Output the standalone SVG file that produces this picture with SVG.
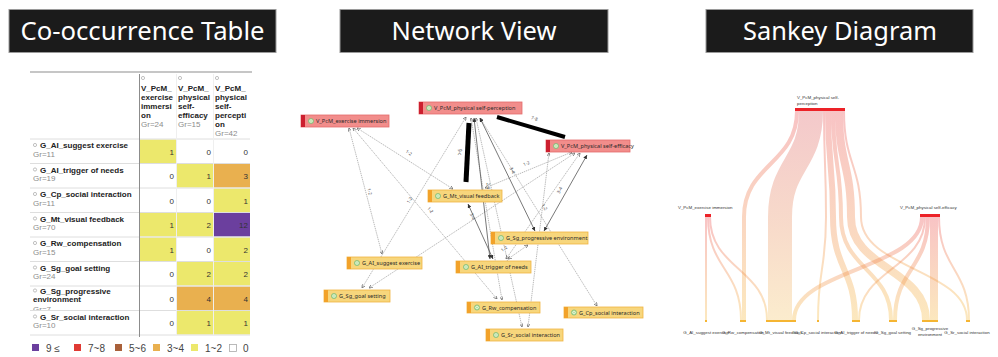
<svg xmlns="http://www.w3.org/2000/svg" width="998" height="357" viewBox="0 0 998 357">
<defs>
<style>
.tbox{fill:#1b1b1b;stroke:#9a9a9a;stroke-width:1}
.title{font-family:"Noto Sans","DejaVu Sans",sans-serif;font-size:26px;fill:#fff;text-anchor:middle}
.hd{font-family:"Liberation Sans",Arial,sans-serif;font-size:8px;font-weight:bold;fill:#222}
.rl{font-family:"Liberation Sans",Arial,sans-serif;font-size:8px;font-weight:bold;fill:#222}
.gr{font-family:"Liberation Sans",Arial,sans-serif;font-size:8px;fill:#8c8c8c}
.ic{fill:none;stroke:#999;stroke-width:0.6}
.num{font-family:"Liberation Sans",Arial,sans-serif;font-size:8px;fill:#333;text-anchor:end}
.grid{stroke:#dedede;stroke-width:1}
.y{fill:#ece86c}.o{fill:#e9b04f}.p{fill:#6b3f9e}.r{fill:#e03a33}.b{fill:#a9603a}.w{fill:#fff}
.lg{font-family:"Liberation Sans",Arial,sans-serif;font-size:10px;fill:#444}
.nr rect.bg{fill:#f28d8b;stroke:#e36c6c;stroke-width:0.8}
.nr rect.st{fill:#cc1f2f}
.no rect.bg{fill:#f7d67c;stroke:#f0b443;stroke-width:0.8}
.no rect.st{fill:#f2a22a}
.nt{font-family:"Noto Sans","DejaVu Sans",sans-serif;font-size:5.6px;fill:#2a2a2a}
.icon{fill:#b8e0a4;stroke:#6fb56f;stroke-width:0.6}
.dm{fill:none;stroke:#fff;stroke-width:0.5}
.e{fill:none;stroke:#8c8c8c;stroke-width:0.6;stroke-dasharray:1.4 0.8;marker-start:url(#ah);marker-end:url(#ah)}
.es{fill:none;stroke:#555;stroke-width:0.8;marker-start:url(#ahd);marker-end:url(#ahd)}
.et{fill:none;stroke:#000;stroke-linecap:butt}
.el{font-family:"Noto Sans","DejaVu Sans",sans-serif;font-size:4.5px;fill:#444;text-anchor:middle}
.sl{font-family:"Liberation Sans",Arial,sans-serif;font-size:4.4px;fill:#333}
.slc{font-family:"Liberation Sans",Arial,sans-serif;font-size:4.4px;fill:#333;text-anchor:middle}
.src{fill:#ec2228}
.tgt{fill:#f5b533}
.lk{fill:none;stroke-opacity:0.33}
</style>
<marker id="ah" viewBox="0 0 6 6" refX="6" refY="3" markerWidth="3.5" markerHeight="3.5" markerUnits="userSpaceOnUse" orient="auto-start-reverse">
<path d="M0,0 L6,3 L0,6" fill="none" stroke="#666" stroke-width="1.2"/>
</marker>
<marker id="ahd" viewBox="0 0 6 6" refX="6" refY="3" markerWidth="4" markerHeight="4" markerUnits="userSpaceOnUse" orient="auto-start-reverse">
<path d="M0,0 L6,3 L0,6 z" fill="#333"/>
</marker>
<linearGradient id="gTop" gradientUnits="userSpaceOnUse" x1="0" y1="111" x2="0" y2="321">
<stop offset="0" stop-color="#ea4a4e"/>
<stop offset="1" stop-color="#f5b93a"/>
</linearGradient>
<linearGradient id="gBig" gradientUnits="userSpaceOnUse" x1="0" y1="111" x2="0" y2="321">
<stop offset="0" stop-color="#dc5a60"/>
<stop offset="0.55" stop-color="#e9905f"/>
<stop offset="1" stop-color="#f4c668"/>
</linearGradient>
<linearGradient id="gMid" gradientUnits="userSpaceOnUse" x1="0" y1="217" x2="0" y2="321">
<stop offset="0" stop-color="#ea4a4e"/>
<stop offset="1" stop-color="#f5b93a"/>
</linearGradient>
<clipPath id="rowclip"><rect x="30" y="286" width="109" height="24"/></clipPath>
</defs>
<rect width="998" height="357" fill="#fff"/>

<!-- section titles -->
<g id="titles">
<rect class="tbox" x="9" y="9.5" width="267" height="43"/>
<text class="title" x="142.5" y="40" textLength="244" lengthAdjust="spacingAndGlyphs">Co-occurrence Table</text>
<rect class="tbox" x="340" y="9.5" width="268" height="43"/>
<text class="title" x="474" y="40" textLength="165" lengthAdjust="spacingAndGlyphs">Network View</text>
<rect class="tbox" x="706" y="9.5" width="267" height="43"/>
<text class="title" x="840" y="40" textLength="194" lengthAdjust="spacingAndGlyphs">Sankey Diagram</text>
</g>

<!-- co-occurrence table -->
<g id="table">
<line x1="30" y1="72" x2="252" y2="72" stroke="#c6c6c6" stroke-width="2"/>
<!-- header cells -->
<g id="col-immersion">
<circle class="ic" cx="143" cy="78" r="1.6"/>
<text class="hd" x="141" y="90.5">V_PcM_</text>
<text class="hd" x="141" y="99.5">exercise</text>
<text class="hd" x="141" y="108.5">immersi</text>
<text class="hd" x="141" y="117.5">on</text>
<text class="gr" x="141" y="126.5">Gr=24</text>
</g>
<g id="col-efficacy">
<circle class="ic" cx="180" cy="78" r="1.6"/>
<text class="hd" x="178" y="90.5">V_PcM_</text>
<text class="hd" x="178" y="99.5">physical</text>
<text class="hd" x="178" y="108.5">self-</text>
<text class="hd" x="178" y="117.5">efficacy</text>
<text class="gr" x="178" y="126.5">Gr=15</text>
</g>
<g id="col-perception">
<circle class="ic" cx="217" cy="78" r="1.6"/>
<text class="hd" x="215" y="90.5">V_PcM_</text>
<text class="hd" x="215" y="99.5">physical</text>
<text class="hd" x="215" y="108.5">self-</text>
<text class="hd" x="215" y="117.5">percepti</text>
<text class="hd" x="215" y="126.5">on</text>
<text class="gr" x="215" y="135.5">Gr=42</text>
</g>

<!-- cell fills -->
<g id="cells">
<rect class="y" x="140" y="139.5" width="36" height="23.5"/>
<rect class="y" x="177" y="164" width="36" height="23.5"/>
<rect class="o" x="214" y="164" width="36" height="23.5"/>
<rect class="y" x="214" y="188.5" width="36" height="23.5"/>
<rect class="y" x="140" y="213" width="36" height="23.5"/>
<rect class="y" x="177" y="213" width="36" height="23.5"/>
<rect class="p" x="214" y="213" width="36" height="23.5"/>
<rect class="y" x="140" y="237.5" width="36" height="23.5"/>
<rect class="y" x="214" y="237.5" width="36" height="23.5"/>
<rect class="y" x="177" y="262" width="36" height="23.5"/>
<rect class="y" x="214" y="262" width="36" height="23.5"/>
<rect class="o" x="177" y="286.5" width="36" height="23.5"/>
<rect class="o" x="214" y="286.5" width="36" height="23.5"/>
<rect class="y" x="177" y="311" width="36" height="23.5"/>
<rect class="y" x="214" y="311" width="36" height="23.5"/>
</g>

<!-- grid -->
<g id="grid">
<line class="grid" x1="30" y1="139" x2="250" y2="139"/>
<line class="grid" x1="30" y1="163.5" x2="250" y2="163.5"/>
<line class="grid" x1="30" y1="188" x2="250" y2="188"/>
<line class="grid" x1="30" y1="212.5" x2="250" y2="212.5"/>
<line class="grid" x1="30" y1="237" x2="250" y2="237"/>
<line class="grid" x1="30" y1="261.5" x2="250" y2="261.5"/>
<line class="grid" x1="30" y1="286" x2="250" y2="286"/>
<line class="grid" x1="30" y1="310.5" x2="250" y2="310.5"/>
<line class="grid" x1="30" y1="335" x2="250" y2="335"/>
<line x1="176.5" y1="74" x2="176.5" y2="335" stroke="#efefef" stroke-width="1"/>
<line x1="213.5" y1="74" x2="213.5" y2="335" stroke="#efefef" stroke-width="1"/>
<line x1="139.5" y1="74" x2="139.5" y2="337" stroke="#8c8c8c" stroke-width="1"/>
</g>

<!-- row labels -->
<g id="rows">
<circle class="ic" cx="35" cy="145" r="1.6"/><text class="rl" x="40" y="148">G_AI_suggest exercise</text><text class="gr" x="33" y="156.5">Gr=11</text>
<circle class="ic" cx="35" cy="169.5" r="1.6"/><text class="rl" x="40" y="172.5">G_AI_trigger of needs</text><text class="gr" x="33" y="181">Gr=19</text>
<circle class="ic" cx="35" cy="194" r="1.6"/><text class="rl" x="40" y="197">G_Cp_social interaction</text><text class="gr" x="33" y="205.5">Gr=11</text>
<circle class="ic" cx="35" cy="218.5" r="1.6"/><text class="rl" x="40" y="221.5">G_Mt_visual feedback</text><text class="gr" x="33" y="230">Gr=70</text>
<circle class="ic" cx="35" cy="243" r="1.6"/><text class="rl" x="40" y="246">G_Rw_compensation</text><text class="gr" x="33" y="254.5">Gr=15</text>
<circle class="ic" cx="35" cy="267.5" r="1.6"/><text class="rl" x="40" y="270.5">G_Sg_goal setting</text><text class="gr" x="33" y="279">Gr=24</text>
<g clip-path="url(#rowclip)">
<circle class="ic" cx="35" cy="290.5" r="1.6"/><text class="rl" x="40" y="293.5">G_Sg_progressive</text><text class="rl" x="33" y="302">environment</text><text class="gr" x="33" y="311.5">Gr=7</text>
</g>
<circle class="ic" cx="35" cy="316.5" r="1.6"/><text class="rl" x="40" y="319.5">G_Sr_social interaction</text><text class="gr" x="33" y="328">Gr=10</text>
</g>

<!-- values -->
<g id="values">
<text class="num" x="174" y="154.5">1</text><text class="num" x="211" y="154.5">0</text><text class="num" x="248" y="154.5">0</text>
<text class="num" x="174" y="179">0</text><text class="num" x="211" y="179">1</text><text class="num" x="248" y="179">3</text>
<text class="num" x="174" y="203.5">0</text><text class="num" x="211" y="203.5">0</text><text class="num" x="248" y="203.5">1</text>
<text class="num" x="174" y="228">1</text><text class="num" x="211" y="228">2</text><text class="num" x="248" y="228">12</text>
<text class="num" x="174" y="252.5">1</text><text class="num" x="211" y="252.5">0</text><text class="num" x="248" y="252.5">2</text>
<text class="num" x="174" y="277">0</text><text class="num" x="211" y="277">2</text><text class="num" x="248" y="277">2</text>
<text class="num" x="174" y="301.5">0</text><text class="num" x="211" y="301.5">4</text><text class="num" x="248" y="301.5">4</text>
<text class="num" x="174" y="326">0</text><text class="num" x="211" y="326">1</text><text class="num" x="248" y="326">1</text>
</g>

<!-- legend -->
<g id="legend">
<rect class="p" x="32" y="344" width="7" height="7"/><text class="lg" x="46" y="352">9 ≤</text>
<rect class="r" x="74" y="344" width="7" height="7"/><text class="lg" x="88" y="352">7~8</text>
<rect class="b" x="115" y="344" width="7" height="7"/><text class="lg" x="129" y="352">5~6</text>
<rect class="o" x="153" y="344" width="7" height="7"/><text class="lg" x="167" y="352">3~4</text>
<rect class="y" x="191" y="344" width="7" height="7"/><text class="lg" x="205" y="352">1~2</text>
<rect x="229.5" y="344.5" width="7" height="7" fill="#fff" stroke="#aaa" stroke-width="0.8"/><text class="lg" x="243" y="352">0</text>
</g>
</g>

<!-- network view: connectors -->
<g id="net-edges">
<line class="e" x1="357" y1="128" x2="453" y2="189"/>
<line class="e" x1="349" y1="128" x2="382" y2="254"/>
<line class="e" x1="353" y1="128" x2="497" y2="299"/>
<line class="e" x1="466" y1="117" x2="362" y2="288"/>
<line class="e" x1="575" y1="153" x2="369" y2="288"/>
<line class="e" x1="572" y1="152" x2="485" y2="188"/>
<line class="e" x1="480" y1="118" x2="597" y2="306"/>
<line class="e" x1="471" y1="118" x2="502" y2="300"/>
<line class="e" x1="476" y1="118" x2="522" y2="327"/>
<line class="e" x1="549" y1="153" x2="528" y2="327"/>
<line class="e" x1="580" y1="153" x2="506" y2="259"/>
<line class="e" x1="528" y1="245" x2="508" y2="259"/>
<line class="es" x1="474" y1="118" x2="490" y2="259"/>
<line class="es" x1="468" y1="204" x2="493" y2="259"/>
<line class="es" x1="480" y1="118" x2="535" y2="231"/>
<line class="es" x1="587" y1="155" x2="544" y2="231"/>
<line class="et" x1="469" y1="123" x2="466" y2="182" stroke-width="5"/>
<line class="et" x1="497" y1="117" x2="565" y2="137" stroke-width="4"/>
<text class="el" transform="translate(408,154) rotate(32)">1-2</text>
<text class="el" transform="translate(368,192) rotate(75)">1-2</text>
<text class="el" transform="translate(429,211) rotate(50)">1-2</text>
<text class="el" transform="translate(411,201) rotate(-59)">1-2</text>
<text class="el" transform="translate(527,165) rotate(-23)">1-2</text>
<text class="el" transform="translate(543,208) rotate(58)">1-2</text>
<text class="el" transform="translate(505,250) rotate(-35)">1-2</text>
<text class="el" transform="translate(458,152) rotate(90)">9-c</text>
<text class="el" transform="translate(534,120) rotate(16)">7-8</text>
<text class="el" transform="translate(487,186) rotate(83)">2-4</text>
<text class="el" transform="translate(471,217) rotate(66)">3-4</text>
<text class="el" transform="translate(511,171) rotate(64)">3-4</text>
<text class="el" transform="translate(561,191) rotate(-61)">3-4</text>
</g>

<!-- network view: nodes -->
<g id="n-immersion" class="nr"><rect class="bg" x="301" y="115" width="88" height="12"/><rect class="st" x="301" y="115" width="4" height="12"/><circle class="icon" cx="311" cy="121" r="2.6"/><path class="dm" d="M311,119.5 L312.5,121 L311,122.5 L309.5,121 z"/><text class="nt" x="316" y="123">V_PcM_exercise immersion</text></g>
<g id="n-perception" class="nr"><rect class="bg" x="419" y="102" width="103" height="12"/><rect class="st" x="419" y="102" width="4" height="12"/><circle class="icon" cx="429" cy="108" r="2.6"/><path class="dm" d="M429,106.5 L430.5,108 L429,109.5 L427.5,108 z"/><text class="nt" x="434" y="110">V_PcM_physical self-perception</text></g>
<g id="n-efficacy" class="nr"><rect class="bg" x="546" y="140" width="84" height="12"/><rect class="st" x="546" y="140" width="4" height="12"/><circle class="icon" cx="556" cy="146" r="2.6"/><path class="dm" d="M556,144.5 L557.5,146 L556,147.5 L554.5,146 z"/><text class="nt" x="561" y="148">V_PcM_physical self-efficacy</text></g>
<g id="n-visual" class="no"><rect class="bg" x="428" y="190" width="74" height="12"/><rect class="st" x="428" y="190" width="4" height="12"/><circle class="icon" cx="438" cy="196" r="2.6"/><path class="dm" d="M438,194.5 L439.5,196 L438,197.5 L436.5,196 z"/><text class="nt" x="443" y="198">G_Mt_visual feedback</text></g>
<g id="n-progressive" class="no"><rect class="bg" x="491" y="232" width="97" height="12"/><rect class="st" x="491" y="232" width="4" height="12"/><circle class="icon" cx="501" cy="238" r="2.6"/><path class="dm" d="M501,236.5 L502.5,238 L501,239.5 L499.5,238 z"/><text class="nt" x="506" y="240">G_Sg_progressive environment</text></g>
<g id="n-suggest" class="no"><rect class="bg" x="347" y="257" width="75" height="12"/><rect class="st" x="347" y="257" width="4" height="12"/><circle class="icon" cx="357" cy="263" r="2.6"/><path class="dm" d="M357,261.5 L358.5,263 L357,264.5 L355.5,263 z"/><text class="nt" x="362" y="265">G_AI_suggest exercise</text></g>
<g id="n-trigger" class="no"><rect class="bg" x="456" y="261" width="75" height="12"/><rect class="st" x="456" y="261" width="4" height="12"/><circle class="icon" cx="466" cy="267" r="2.6"/><path class="dm" d="M466,265.5 L467.5,267 L466,268.5 L464.5,267 z"/><text class="nt" x="471" y="269">G_AI_trigger of needs</text></g>
<g id="n-goal" class="no"><rect class="bg" x="324" y="290" width="66" height="12"/><rect class="st" x="324" y="290" width="4" height="12"/><circle class="icon" cx="334" cy="296" r="2.6"/><path class="dm" d="M334,294.5 L335.5,296 L334,297.5 L332.5,296 z"/><text class="nt" x="339" y="298">G_Sg_goal setting</text></g>
<g id="n-compensation" class="no"><rect class="bg" x="467" y="302" width="73" height="11"/><rect class="st" x="467" y="302" width="4" height="11"/><circle class="icon" cx="477" cy="307.5" r="2.6"/><path class="dm" d="M477,306 L478.5,307.5 L477,309 L475.5,307.5 z"/><text class="nt" x="482" y="309.5">G_Rw_compensation</text></g>
<g id="n-cp-social" class="no"><rect class="bg" x="564" y="307" width="79" height="11"/><rect class="st" x="564" y="307" width="4" height="11"/><circle class="icon" cx="574" cy="312.5" r="2.6"/><path class="dm" d="M574,311 L575.5,312.5 L574,314 L572.5,312.5 z"/><text class="nt" x="579" y="314.5">G_Cp_social interaction</text></g>
<g id="n-sr-social" class="no"><rect class="bg" x="486" y="329" width="77" height="12"/><rect class="st" x="486" y="329" width="4" height="12"/><circle class="icon" cx="496" cy="335" r="2.6"/><path class="dm" d="M496,333.5 L497.5,335 L496,336.5 L494.5,335 z"/><text class="nt" x="501" y="337">G_Sr_social interaction</text></g>

<!-- sankey links -->
<g id="sankey-links">
<!-- from physical self-perception (via middle layer) -->
<path class="lk" stroke="url(#gTop)" stroke-width="4" d="M797,111 C797,164 744,164 744,217 L744,320"/>
<path class="lk" stroke="url(#gBig)" stroke-opacity="0.9" stroke-width="24" d="M811,111 C811,164 780,164 780,217 L780,320"/>
<path class="lk" stroke="url(#gTop)" stroke-width="2" d="M824,111 C824,164 826,164 826,217 C826,269 818,269 818,320"/>
<path class="lk" stroke="url(#gTop)" stroke-width="6" d="M828,111 C828,164 833,164 833,217 C833,269 855,269 855,320"/>
<path class="lk" stroke="url(#gTop)" stroke-width="4" d="M833,111 C833,164 841,164 841,217 C841,269 891,269 891,320"/>
<path class="lk" stroke="url(#gTop)" stroke-width="8" d="M839,111 C839,164 851,164 851,217 C851,269 926,269 926,320"/>
<path class="lk" stroke="url(#gTop)" stroke-width="2" d="M844,111 C844,164 861,164 861,217 C861,269 967,269 967,320"/>
<!-- from exercise immersion -->
<path class="lk" stroke="url(#gMid)" stroke-width="2" d="M706,217 L706,320"/>
<path class="lk" stroke="url(#gMid)" stroke-width="2" d="M708,217 C708,269 741,269 741,320"/>
<path class="lk" stroke="url(#gMid)" stroke-width="2" d="M710,217 C710,269 767,269 767,320"/>
<!-- from physical self-efficacy -->
<path class="lk" stroke="url(#gMid)" stroke-width="4" d="M922,217 C922,269 794,269 794,320"/>
<path class="lk" stroke="url(#gMid)" stroke-width="2" d="M925,217 C925,269 859,269 859,320"/>
<path class="lk" stroke="url(#gMid)" stroke-width="4" d="M928,217 C928,269 895,269 895,320"/>
<path class="lk" stroke="url(#gMid)" stroke-width="8" d="M934,217 L934,320"/>
<path class="lk" stroke="url(#gMid)" stroke-width="2" d="M939,217 C939,269 969,269 969,320"/>
</g>

<!-- sankey nodes -->
<g id="s-perception"><rect class="src" x="795" y="108" width="50" height="3"/><text class="sl" x="797" y="98.5">V_PcM_physical self-</text><text class="sl" x="797" y="104.5">perception</text></g>
<g id="s-immersion"><rect class="src" x="705" y="214" width="6" height="3"/><text class="sl" x="678" y="209">V_PcM_exercise immersion</text></g>
<g id="s-efficacy"><rect class="src" x="920" y="214" width="20" height="3"/><text class="sl" x="900" y="209">V_PcM_physical self-efficacy</text></g>
<g id="s-suggest"><rect class="tgt" x="705" y="320" width="2" height="2"/><text class="slc" x="706" y="334">G_AI_suggest exercise</text></g>
<g id="s-compensation"><rect class="tgt" x="740" y="320" width="6" height="2"/><text class="slc" x="743" y="334">G_Rw_compensation</text></g>
<g id="s-visual"><rect class="tgt" x="766" y="320" width="30" height="2"/><text class="slc" x="781" y="334">G_Mt_visual feedback</text></g>
<g id="s-cp-social"><rect class="tgt" x="817" y="320" width="2" height="2"/><text class="slc" x="818" y="334">G_Cp_social interaction</text></g>
<g id="s-trigger"><rect class="tgt" x="852" y="320" width="8" height="2"/><text class="slc" x="856" y="334">G_AI_trigger of needs</text></g>
<g id="s-goal"><rect class="tgt" x="889" y="320" width="8" height="2"/><text class="slc" x="893" y="334">G_Sg_goal setting</text></g>
<g id="s-progressive"><rect class="tgt" x="922" y="320" width="16" height="2"/><text class="slc" x="930" y="330">G_Sg_progressive</text><text class="slc" x="930" y="336">environment</text></g>
<g id="s-sr-social"><rect class="tgt" x="966" y="320" width="4" height="2"/><text class="slc" x="967" y="334">G_Sr_social interaction</text></g>
</svg>
